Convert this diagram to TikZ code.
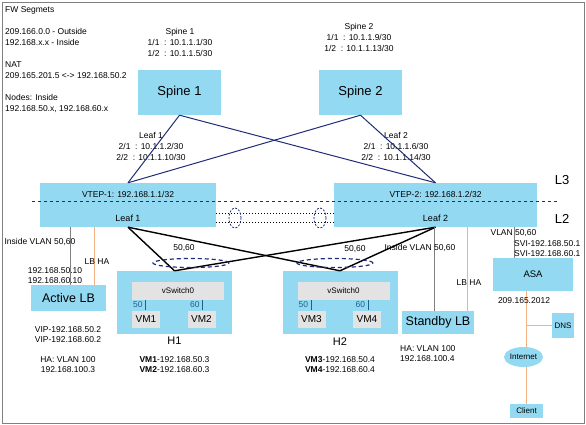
\documentclass[tikz,border=0pt]{standalone}
\usepackage{fontspec}
\setmainfont{Liberation Sans}
\usepackage{xcolor}
\usetikzlibrary{positioning,shapes.geometric}
\definecolor{NSky}{HTML}{93D9F2}
\definecolor{NNavy}{HTML}{1F2C78}
\definecolor{NOrange}{HTML}{F4B183}
\definecolor{NGray}{HTML}{808080}
\definecolor{NLight}{HTML}{E3E3E3}
\definecolor{NTeal}{HTML}{1F5F8B}

\begin{document}
\begin{tikzpicture}[x=1pt,y=-1pt,
  node distance=2pt,
  sw/.style={fill=NSky,inner sep=0pt},
  gb/.style={fill=NLight,inner sep=0pt},
  t/.style={font=\fontsize{8.5}{10}\selectfont,inner sep=0pt,align=center},
  tt/.style={font=\fontsize{8.5}{11}\selectfont,inner sep=0pt,align=center},
  up/.style={draw=NNavy,line width=1pt},
  dn/.style={draw=black,line width=1.4pt},
  ha/.style={draw=NOrange,line width=1pt},
  vl/.style={draw=NGray,line width=1pt}
]
  \useasboundingbox (0,0) rectangle (586,425);
  \draw[NGray,line width=0.8pt] (2,2) rectangle (584,423);

  \node[tt,align=left,anchor=north west] (fw) at (5,6)
    {FW Segmets\\[11pt]209.166.0.0 - Outside\\192.168.x.x - Inside\\[11pt]NAT\\
     209.165.201.5 <-> 192.168.50.2\\[11pt]Nodes: Inside\\192.168.50.x, 192.168.60.x};

  \node[sw,minimum width=83pt,minimum height=45pt,font=\fontsize{13}{15}\selectfont] (s1) at (179.5,92.5) {Spine 1};
  \node[sw,minimum width=83pt,minimum height=45pt,font=\fontsize{13}{15}\selectfont] (s2) at (360.5,92.5) {Spine 2};
  \node[tt] (s1l) at (180,42) {Spine 1\\1/1 \ : 10.1.1.1/30\\1/2 \ : 10.1.1.5/30};
  \node[tt] (s2l) at (359,37) {Spine 2\\1/1 \ : 10.1.1.9/30\\1/2 \ : 10.1.1.13/30};

  \node[sw,minimum width=176pt,minimum height=44pt] (l1) at (128,205) {};
  \node[sw,minimum width=203pt,minimum height=44pt] (l2) at (435.5,205) {};
  \node[t] (v1) at (128,194) {VTEP-1: 192.168.1.1/32};
  \node[t,font=\fontsize{9}{11}\selectfont] (n1) at (128,218) {Leaf 1};
  \node[t] (v2) at (435.5,194) {VTEP-2: 192.168.1.2/32};
  \node[t,font=\fontsize{9}{11}\selectfont] (n2) at (435.5,218) {Leaf 2};
  \node[tt] (l1l) at (151,146) {Leaf 1\\2/1 \ : 10.1.1.2/30\\2/2 \ : 10.1.1.10/30};
  \node[tt] (l2l) at (396,146) {Leaf 2\\2/1 \ : 10.1.1.6/30\\2/2 \ : 10.1.1.14/30};
  \node[font=\fontsize{13}{15}\selectfont,inner sep=0pt] (L3) at (562,180) {L3};
  \node[font=\fontsize{13}{15}\selectfont,inner sep=0pt] (L2) at (562,219) {L2};

  \foreach \a/\b in {s1/l1,s1/l2,s2/l1,s2/l2}
    {\draw[up] (\a.south) -- (\b.north);}

  \coordinate (d1) at (32,201);
  \coordinate (d2) at (557,201);
  \draw[NNavy,dashed,line width=0.9pt] (d1) -- (d2);
  \draw[dotted,line width=1pt] ([yshift=-8pt]l1.east) -- ([yshift=-8pt]l2.west);
  \draw[dotted,line width=1pt] ([yshift=-17pt]l1.east) -- ([yshift=-17pt]l2.west);
  \foreach \x in {235,320}
    {\draw[NNavy,dash pattern=on 2pt off 1.5pt,line width=0.8pt] (\x,218) ellipse [x radius=6pt,y radius=10pt];}

  \foreach \h/\x/\a/\b/\p/\q in {H1/174.5/VM1/VM2/192.168.50.3/192.168.60.3,H2/340/VM3/VM4/192.168.50.4/192.168.60.4}{
    \node[sw,minimum width=115pt,minimum height=63pt] (\h) at (\x,302.5) {};
    \node[gb,minimum width=92pt,minimum height=18pt,font=\fontsize{8}{10}\selectfont] (\h-sw) at (\x+3.5,291) {vSwitch0};
    \node[gb,minimum width=28pt,minimum height=17pt,font=\fontsize{10}{12}\selectfont] (\a) at (\x-28.5,319.5) {\a};
    \node[gb,minimum width=28pt,minimum height=17pt,font=\fontsize{10}{12}\selectfont] (\b) at (\x+27,319.5) {\b};
    \node[t,anchor=west,text=NTeal] (\h-a) at (\x-41.5,305) {50};
    \node[t,anchor=west,text=NTeal] (\h-b) at (\x+15.5,305) {60};
    \draw[NTeal,line width=0.9pt] ([xshift=3pt,yshift=1.5pt]\h-a.north east) -- ([xshift=3pt,yshift=-1.5pt]\h-a.south east);
    \draw[NTeal,line width=0.9pt] ([xshift=3pt,yshift=1.5pt]\h-b.north east) -- ([xshift=3pt,yshift=-1.5pt]\h-b.south east);
    \node[font=\fontsize{11}{13}\selectfont,inner sep=0pt,below=3pt of \h] (\h-l) {\h};
    \node[t] (\h-ip) at (\x,365) {\textbf{\a}-\p\\\textbf{\b}-\q};
  }

  \foreach \a in {l1,l2}
    \foreach \b in {H1,H2}
      {\draw[dn] (\a.south) -- (\b.north);}
  \foreach \x in {191,335}
    {\draw[NNavy,dash pattern=on 4pt off 3pt,line width=1.2pt] (\x,263) ellipse [x radius=38pt,y radius=4.5pt];}
  \node[t] (vl1) at (184,248) {50,60};
  \node[t] (vl2) at (355,249) {50,60};

  \node[sw,minimum width=75pt,minimum height=26pt,font=\fontsize{12.5}{14}\selectfont] (alb) at (68.5,298) {Active LB};
  \node[sw,minimum width=72pt,minimum height=23pt,font=\fontsize{12.5}{14}\selectfont] (sb) at (438,322.5) {Standby LB};
  \node[sw,minimum width=80pt,minimum height=33pt,font=\fontsize{9.5}{11}\selectfont] (asa) at (533,274.5) {ASA};
  \node[sw,minimum width=22pt,minimum height=25pt,font=\fontsize{8}{10}\selectfont] (dns) at (563,325.5) {DNS};
  \node[sw,ellipse,minimum width=39pt,minimum height=20pt,font=\fontsize{8}{10}\selectfont] (inet) at (523.5,357) {Internet};
  \node[sw,minimum width=33pt,minimum height=14pt,font=\fontsize{8}{10}\selectfont] (cl) at (526.5,411) {Client};

  \coordinate (g1) at (70,227);
  \coordinate (o1) at (94,227);
  \coordinate (g2) at (434,227);
  \coordinate (o2) at (467,227);
  \coordinate (g3) at (514,227);
  \coordinate (o4) at (526,300);
  \draw[vl] (g1) -- (g1 |- alb.north);
  \draw[ha] (o1) -- (o1 |- alb.north);
  \draw[vl] (g2) -- (g2 |- sb.north);
  \draw[ha] (o2) -- (o2 |- sb.north);
  \draw[NGray,line width=0.8pt] (g3) -- (g3 |- asa.north);
  \draw[ha] (o4 |- asa.south) -- (o4 |- inet.north);
  \draw[ha] (o4 |- dns.west) -- (dns.west);
  \draw[ha] (o4 |- inet.south) -- (o4 |- cl.north);

  \node[t] (ivl1) at (40,242) {Inside VLAN 50,60};
  \node[t] (lbha1) at (97,262) {LB HA};
  \node[t] (ip1) at (55,275.5) {192.168.50.10\\192.168.60.10};
  \node[t] (vip) at (68,335) {VIP-192.168.50.2\\VIP-192.168.60.2};
  \node[t] (ha1) at (68,365) {HA: VLAN 100\\192.168.100.3};
  \node[t] (ivl2) at (420,248) {Inside VLAN 50,60};
  \node[t] (lbha2) at (469,283) {LB HA};
  \node[t,align=left,anchor=west] (ha2) at (400,354) {HA: VLAN 100\\192.168.100.4};
  \node[t] (avl) at (513.5,233) {VLAN 50,60};
  \node[t,align=left,anchor=west] (svi) at (514,249) {SVI-192.168.50.1\\SVI-192.168.60.1};
  \node[t] (wan) at (524,301) {209.165.2012};
\end{tikzpicture}
\end{document}
